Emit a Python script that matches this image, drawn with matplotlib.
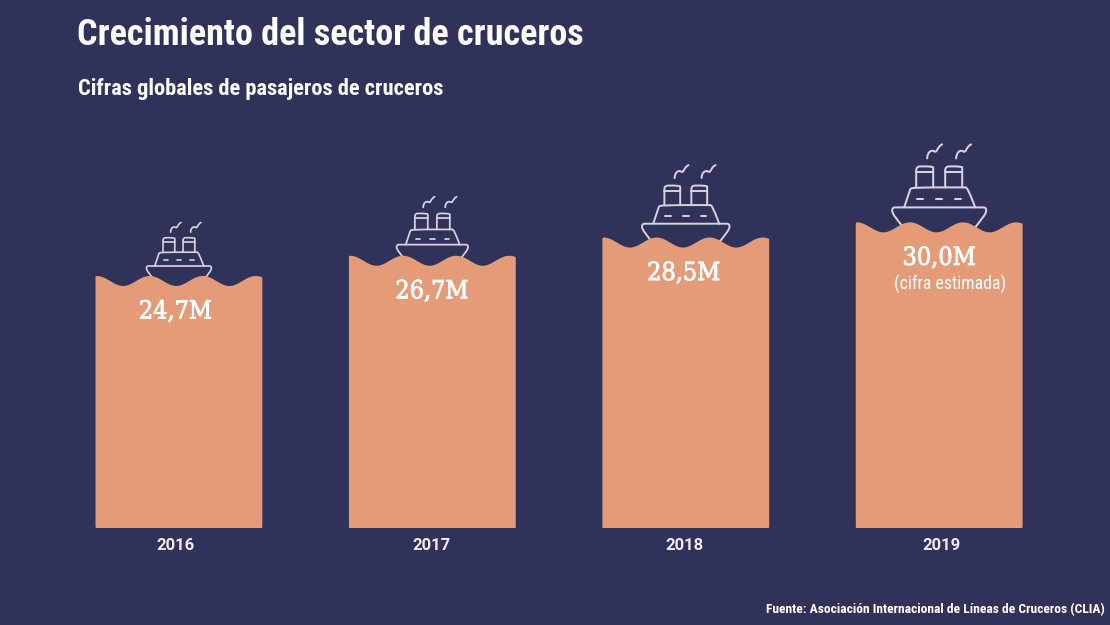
# plot.py

import numpy as np
import matplotlib
matplotlib.use('Agg')
import matplotlib.pyplot as plt
import matplotlib.patheffects as pe
from matplotlib.patches import PathPatch, Polygon
from matplotlib.path import Path

# Global cruise passengers, millions
years = ['2016', '2017', '2018', '2019']
passengers = [24.7, 26.7, 28.5, 30.0]
value_labels = ['24,7M', '26,7M', '28,5M', '30,0M']
ship_sizes = [0.69, 0.76, 0.93, 1.0]

BG = '#303259'
BAR = '#E39B78'
WHITE = '#FFFFFF'
LINE = '#D5D4E0'
NARROW = ['Roboto Condensed', 'Roboto', 'DejaVu Sans']

BAR_WIDTH = 0.65
PX_PER_M = 10.12    # vertical pixels per million
PX_PER_X = 253.4    # horizontal pixels per category

fig = plt.figure(figsize=(11.10, 6.25), dpi=100, facecolor=BG)
ax = fig.add_axes([0, 0, 1, 1])
ax.set_facecolor(BG)
ax.set_xlim(-0.706, 3.674)
ax.set_ylim(-98 / PX_PER_M, 527 / PX_PER_M)
ax.axis('off')


def ship(xc, yc, s):
    # offsets below are in pixels for the largest ship
    dx = s / PX_PER_X
    dy = s / PX_PER_M
    lw = 1.45 * s ** 0.5

    def curve(verts, codes):
        pts = [(xc + px * dx, yc + py * dy) for px, py in verts]
        ax.add_patch(PathPatch(Path(pts, codes), facecolor='none', edgecolor=LINE,
                               lw=lw, capstyle='round', joinstyle='round', zorder=2))

    M, L, C = Path.MOVETO, Path.LINETO, Path.CURVE4
    # hull
    curve([(-36, -20), (-42, -12), (-47, -7), (-47, -3), (-47, -1), (-46, 0), (-44, 0),
           (44, 0), (46, 0), (47, -1), (47, -3), (47, -7), (42, -12), (36, -20)],
          [M, C, C, C, C, C, C, L, C, C, C, C, C, C])
    # cabin
    curve([(-35, 0), (-29, 18), (-28, 20), (-26, 20), (26, 20), (28, 20), (29, 18), (36, 0)],
          [M, L, C, C, L, C, C, L])
    for left in [-23, 6]:
        # funnel
        curve([(left, 20), (left, 37), (left, 40), (left + 2, 41), (left + 4, 41),
               (left + 13, 41), (left + 15, 41), (left + 17, 40), (left + 17, 37),
               (left + 17, 20)],
              [M, L, C, C, L, C, C, C, L, L])
        curve([(left, 35), (left + 17, 35)], [M, L])
        # smoke
        sx = left + 11
        curve([(sx, 49), (sx, 55), (sx + 4, 58), (sx + 7, 56), (sx + 10, 54),
               (sx + 10, 61), (sx + 15, 63)],
              [M, C, C, C, C, C, C])
    for dash in [-19, 0, 19]:
        curve([(dash - 3, 8), (dash + 3, 8)], [M, L])


# bars with a wavy top
label_shift = [-3.5, -0.5, -2, 0]
year_shift = [-3, -0.5, -1.5, 2]
for i, value in enumerate(passengers):
    t = np.linspace(0, 1, 200)
    wave = 5 * (np.cos(2 * np.pi * t * 3.1) - 1) / PX_PER_M
    top = value + wave
    px = i - BAR_WIDTH / 2 + t * BAR_WIDTH
    verts = [(i - BAR_WIDTH / 2, 0)] + list(zip(px, top)) + [(i + BAR_WIDTH / 2, 0)]
    ax.add_patch(Polygon(verts, closed=True, facecolor=BAR, edgecolor=BAR,
                         lw=1.5, joinstyle='round', zorder=3))
    ship(i, value + 16 * ship_sizes[i] / PX_PER_M, ship_sizes[i])
    ax.text(i + label_shift[i] / PX_PER_X, value - 35 / PX_PER_M, value_labels[i], color=WHITE,
            fontsize=18, family='DejaVu Serif', stretch='condensed',
            ha='center', va='center', zorder=4,
            path_effects=[pe.withStroke(linewidth=0.6, foreground=WHITE)])
    ax.text(i + year_shift[i] / PX_PER_X, -18 / PX_PER_M, years[i], color='#ECECF2', fontsize=12,
            family='Roboto', weight='bold', ha='center', va='center')

ax.text(3.044, 30.0 - 61 / PX_PER_M, '(cifra estimada)', color=WHITE, fontsize=12.8,
        family=NARROW, ha='center', va='center', zorder=4)

fig.text(77 / 1110, 1 - 35 / 625, 'Crecimiento del sector de cruceros', color=WHITE,
         fontsize=26, family=NARROW, weight='bold', va='center')
fig.text(78 / 1110, 1 - 89 / 625, 'Cifras globales de pasajeros de cruceros', color=WHITE,
         fontsize=16.2, family=NARROW, weight='bold', va='center')
fig.text(1105 / 1110, 1 - 610 / 625, 'Fuente: Asociación Internacional de Líneas de Cruceros (CLIA)',
         color=WHITE, fontsize=9.7, family=NARROW, weight='bold',
         ha='right', va='center')

plt.savefig('out.png', dpi=100, facecolor=BG)
